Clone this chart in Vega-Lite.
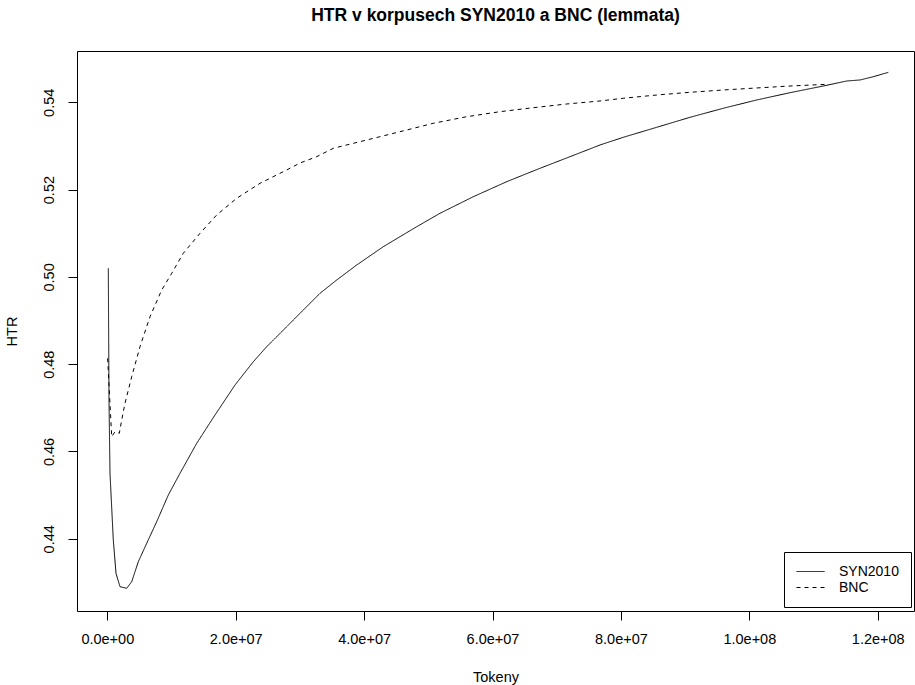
{
  "$schema": "https://vega.github.io/schema/vega-lite/v6.json",
  "width": 837,
  "height": 560,
  "autosize": {"type": "none"},
  "padding": {"left": 77, "top": 51, "right": 1, "bottom": 74},
  "background": "white",
  "title": {
    "text": "HTR v korpusech SYN2010 a BNC (lemmata)",
    "font": "Liberation Sans",
    "fontSize": 17.5,
    "fontWeight": "bold",
    "color": "black",
    "anchor": "middle",
    "frame": "group",
    "offset": 27
  },
  "config": {
    "view": {"stroke": "black", "strokeWidth": 1},
    "axis": {
      "domain": false,
      "grid": false,
      "tickColor": "black",
      "tickSize": 9,
      "tickWidth": 1,
      "labelFont": "Liberation Sans",
      "labelFontSize": 14.5,
      "labelColor": "black",
      "titleFont": "Liberation Sans",
      "titleFontSize": 14.5,
      "titleFontWeight": "normal",
      "titleColor": "black"
    }
  },
  "data": {
    "values": [
      {"s": "SYN2010", "x": 155763, "y": 0.50197},
      {"s": "SYN2010", "x": 264797, "y": 0.4718},
      {"s": "SYN2010", "x": 420560, "y": 0.4550},
      {"s": "SYN2010", "x": 934578, "y": 0.43972},
      {"s": "SYN2010", "x": 1355138, "y": 0.43209},
      {"s": "SYN2010", "x": 1978190, "y": 0.42902},
      {"s": "SYN2010", "x": 3021802, "y": 0.42866},
      {"s": "SYN2010", "x": 3800617, "y": 0.43017},
      {"s": "SYN2010", "x": 4828653, "y": 0.43475},
      {"s": "SYN2010", "x": 6137062, "y": 0.43897},
      {"s": "SYN2010", "x": 7694692, "y": 0.44392},
      {"s": "SYN2010", "x": 9501543, "y": 0.45003},
      {"s": "SYN2010", "x": 11323970, "y": 0.4550},
      {"s": "SYN2010", "x": 13925212, "y": 0.46188},
      {"s": "SYN2010", "x": 16775675, "y": 0.46836},
      {"s": "SYN2010", "x": 19890935, "y": 0.47523},
      {"s": "SYN2010", "x": 22741398, "y": 0.48057},
      {"s": "SYN2010", "x": 24828622, "y": 0.48401},
      {"s": "SYN2010", "x": 27165067, "y": 0.48744},
      {"s": "SYN2010", "x": 30015530, "y": 0.49166},
      {"s": "SYN2010", "x": 33130790, "y": 0.49624},
      {"s": "SYN2010", "x": 35732032, "y": 0.49929},
      {"s": "SYN2010", "x": 38847292, "y": 0.50273},
      {"s": "SYN2010", "x": 42990588, "y": 0.50692},
      {"s": "SYN2010", "x": 48193072, "y": 0.5115},
      {"s": "SYN2010", "x": 51822350, "y": 0.51457},
      {"s": "SYN2010", "x": 57009258, "y": 0.51837},
      {"s": "SYN2010", "x": 62211742, "y": 0.52181},
      {"s": "SYN2010", "x": 67398650, "y": 0.52488},
      {"s": "SYN2010", "x": 72071540, "y": 0.52754},
      {"s": "SYN2010", "x": 76744430, "y": 0.53022},
      {"s": "SYN2010", "x": 80373708, "y": 0.53198},
      {"s": "SYN2010", "x": 85576192, "y": 0.53427},
      {"s": "SYN2010", "x": 90763100, "y": 0.53656},
      {"s": "SYN2010", "x": 95950008, "y": 0.53863},
      {"s": "SYN2010", "x": 101152492, "y": 0.54053},
      {"s": "SYN2010", "x": 106339400, "y": 0.5422},
      {"s": "SYN2010", "x": 111526308, "y": 0.54373},
      {"s": "SYN2010", "x": 115171162, "y": 0.54488},
      {"s": "SYN2010", "x": 117242810, "y": 0.54511},
      {"s": "SYN2010", "x": 119314458, "y": 0.54586},
      {"s": "SYN2010", "x": 121650903, "y": 0.54686},
      {"s": "BNC", "x": 50000, "y": 0.48135},
      {"s": "BNC", "x": 685357, "y": 0.46339},
      {"s": "BNC", "x": 1199375, "y": 0.46453},
      {"s": "BNC", "x": 1869156, "y": 0.46417},
      {"s": "BNC", "x": 2242987, "y": 0.46721},
      {"s": "BNC", "x": 2757005, "y": 0.47104},
      {"s": "BNC", "x": 3800617, "y": 0.47713},
      {"s": "BNC", "x": 5093450, "y": 0.48401},
      {"s": "BNC", "x": 6651080, "y": 0.49088},
      {"s": "BNC", "x": 8473507, "y": 0.497},
      {"s": "BNC", "x": 10031137, "y": 0.50082},
      {"s": "BNC", "x": 11837988, "y": 0.50541},
      {"s": "BNC", "x": 14439230, "y": 0.50999},
      {"s": "BNC", "x": 17040472, "y": 0.51418},
      {"s": "BNC", "x": 20155732, "y": 0.51801},
      {"s": "BNC", "x": 23785010, "y": 0.52144},
      {"s": "BNC", "x": 27943882, "y": 0.52449},
      {"s": "BNC", "x": 30015530, "y": 0.52609},
      {"s": "BNC", "x": 32616772, "y": 0.52754},
      {"s": "BNC", "x": 35202438, "y": 0.52946},
      {"s": "BNC", "x": 40404922, "y": 0.53136},
      {"s": "BNC", "x": 45591830, "y": 0.53326},
      {"s": "BNC", "x": 50778738, "y": 0.53519},
      {"s": "BNC", "x": 55981222, "y": 0.5367},
      {"s": "BNC", "x": 61168130, "y": 0.53785},
      {"s": "BNC", "x": 66355038, "y": 0.53876},
      {"s": "BNC", "x": 71557522, "y": 0.53961},
      {"s": "BNC", "x": 76744430, "y": 0.5403},
      {"s": "BNC", "x": 80373708, "y": 0.54092},
      {"s": "BNC", "x": 85576192, "y": 0.54167},
      {"s": "BNC", "x": 90763100, "y": 0.54229},
      {"s": "BNC", "x": 95950008, "y": 0.54282},
      {"s": "BNC", "x": 101152492, "y": 0.54328},
      {"s": "BNC", "x": 106339400, "y": 0.54373},
      {"s": "BNC", "x": 112055902, "y": 0.54412}
    ]
  },
  "mark": {"type": "line", "color": "black", "strokeWidth": 1, "clip": true},
  "encoding": {
    "x": {
      "field": "x",
      "type": "quantitative",
      "scale": {"domain": [-4720000, 125650000], "nice": false, "zero": false},
      "axis": {
        "title": "Tokeny",
        "values": [0, 20000000, 40000000, 60000000, 80000000, 100000000, 120000000],
        "labelExpr": "replace(format(datum.value, '.1e'), regexp('e[+]([0-9])$'), 'e+0$1')",
        "labelPadding": 12,
        "titlePadding": 25,
        "labelFlush": false,
        "labelOverlap": false
      }
    },
    "y": {
      "field": "y",
      "type": "quantitative",
      "scale": {"domain": [0.42346, 0.55175], "nice": false, "zero": false},
      "axis": {
        "title": "HTR",
        "values": [0.44, 0.46, 0.48, 0.5, 0.52, 0.54],
        "format": ".2f",
        "labelAngle": 270,
        "labelAlign": "center",
        "labelBaseline": "bottom",
        "labelPadding": 12,
        "titlePadding": 22,
        "labelFlush": false,
        "labelOverlap": false
      }
    },
    "strokeDash": {
      "field": "s",
      "type": "nominal",
      "scale": {"domain": ["SYN2010", "BNC"], "range": [[1, 0], [4, 4]]},
      "legend": {
        "title": null,
        "orient": "none",
        "legendX": 707,
        "legendY": 501,
        "strokeColor": "black",
        "fillColor": "white",
        "padding": 12,
        "cornerRadius": 0,
        "symbolType": "M-1,0H3",
        "symbolSize": 196,
        "symbolStrokeColor": "black",
        "symbolStrokeWidth": 1,
        "labelFont": "Liberation Sans",
        "labelFontSize": 14,
        "labelColor": "black",
        "labelOffset": 28,
        "rowPadding": 1
      }
    }
  }
}
